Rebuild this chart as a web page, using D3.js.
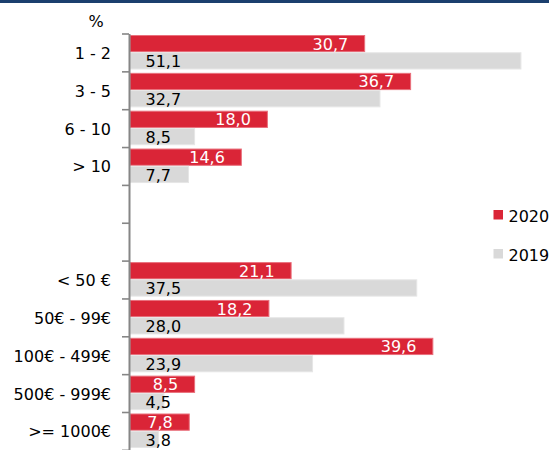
<!DOCTYPE html>
<html>
<head>
<meta charset="utf-8">
<script src="https://cdn.jsdelivr.net/npm/d3@7"></script>
<style>
  html, body { margin: 0; padding: 0; background: #fff; }
  svg { display: block; }
  text { font-family: "DejaVu Sans", Verdana, sans-serif; }
</style>
</head>
<body>
<div id="chart"></div>
<script>
// ---- data ----
const categories = ["1 - 2", "3 - 5", "6 - 10", "> 10", "", "", "< 50 €", "50€ - 99€", "100€ - 499€", "500€ - 999€", ">= 1000€"];
const series = ["2020", "2019"];
const values2020 = [30.7, 36.7, 18.0, 14.6, null, null, 21.1, 18.2, 39.6, 8.5, 7.8];
const values2019 = [51.1, 32.7, 8.5, 7.7, null, null, 37.5, 28.0, 23.9, 4.5, 3.8];
const unitLabel = "%";

const colors = { "2020": "#DA2537", "2019": "#D9D9D9" };
const strokes = { "2020": "#E9707C", "2019": "#E6E6E6" };
const labelColors = { "2020": "#FFFFFF", "2019": "#000000" };

const W = 549, H = 450;
const svg = d3.select("#chart").append("svg").attr("width", W).attr("height", H);

// top band
svg.append("rect").attr("x", 0).attr("y", 0).attr("width", W).attr("height", 3).attr("fill", "#1B3F6E");

const idx = d3.range(categories.length);
const y = d3.scaleBand().domain(idx).range([33.5, 33.5 + 37.85 * categories.length]).padding(0);
const ySub = d3.scaleBand().domain(series).range([1.5, 36]).padding(0);
const x = d3.scaleLinear().domain([0, 50]).range([130, 130 + 7.66 * 50]);

const locale = d3.formatLocale({ decimal: ",", thousands: ".", grouping: [3], currency: ["", "€"] });
const fmt = locale.format(".1f");

const rows = idx.map(i => ({ i, cat: categories[i], "2020": values2020[i], "2019": values2019[i] }));

// bars
const g = svg.append("g");
series.forEach(s => {
  const data = rows.filter(r => r[s] != null);
  g.selectAll("rect.b" + s).data(data).enter().append("rect")
    .attr("x", x(0))
    .attr("y", d => y(d.i) + ySub(s) + 0.5)
    .attr("width", d => x(d[s]) - x(0) - 0.5)
    .attr("height", ySub.bandwidth() - 1)
    .attr("fill", colors[s])
    .attr("stroke", strokes[s])
    .attr("stroke-width", 1);
});

// labels
const fontSize = 16;
// 2020: end-anchored inside bar
g.selectAll("text.l2020").data(rows.filter(r => r["2020"] != null)).enter().append("text")
  .attr("x", d => x(d["2020"]) - 17)
  .attr("y", d => y(d.i) + ySub("2020") + ySub.bandwidth() / 2 + 6)
  .attr("text-anchor", "end")
  .attr("font-size", fontSize)
  .attr("fill", labelColors["2020"])
  .text(d => fmt(d["2020"]));
// 2019: start-anchored near base
g.selectAll("text.l2019").data(rows.filter(r => r["2019"] != null)).enter().append("text")
  .attr("x", x(0) + 15.5)
  .attr("y", d => y(d.i) + ySub("2019") + ySub.bandwidth() / 2 + 6.5)
  .attr("text-anchor", "start")
  .attr("font-size", fontSize)
  .attr("fill", labelColors["2019"])
  .text(d => fmt(d["2019"]));

// axis with ticks at band edges
const edge = d3.scaleLinear().domain([0, categories.length]).range([y.range()[0], y.range()[1]]);
const axis = svg.append("g").attr("transform", "translate(129,0)")
  .call(d3.axisLeft(edge).tickValues(d3.range(categories.length + 1)).tickFormat("").tickSize(7).tickSizeOuter(0));
axis.select(".domain").attr("stroke", "#868686").attr("stroke-width", 2);
axis.selectAll(".tick line").attr("stroke", "#868686").attr("stroke-width", 1.6);

// category labels
const catAxis = svg.append("g").attr("transform", "translate(111,0)")
  .call(d3.axisLeft(y).tickSize(0).tickPadding(0).tickFormat(i => categories[i]));
catAxis.select(".domain").remove();
catAxis.selectAll(".tick text")
  .attr("font-family", "DejaVu Sans, Verdana, sans-serif")
  .attr("font-size", fontSize)
  .attr("fill", "#000")
  .attr("dy", null)
  .attr("y", 6.5);

// unit label
svg.append("text").attr("x", 96).attr("y", 26.5).attr("text-anchor", "middle")
  .attr("font-size", fontSize).attr("fill", "#000").text(unitLabel);

// legend
const legend = svg.append("g");
series.forEach((s, k) => {
  const ly = 210 + k * 39;
  legend.append("rect").attr("x", 493.5).attr("y", ly).attr("width", 9.5).attr("height", 9.5).attr("fill", colors[s]);
  legend.append("text").attr("x", 508.5).attr("y", ly + 11.7).attr("font-size", fontSize).attr("fill", "#000").text(s);
});
</script>
</body>
</html>
